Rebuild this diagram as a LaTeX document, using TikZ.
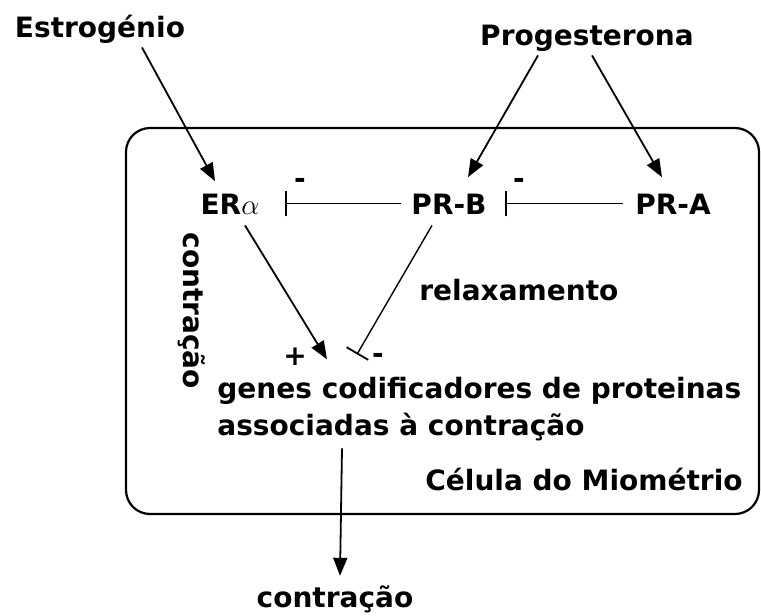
\documentclass[tikz,border=0pt]{standalone}
\usepackage{fontspec}
\setmainfont{DejaVu Sans}
\usetikzlibrary{arrows.meta}

\begin{document}
\begin{tikzpicture}[x=0.5pt, y=-0.5pt,
  every node/.style={font=\bfseries\fontsize{14}{16}\selectfont, inner sep=1pt},
  act/.style={line width=0.9pt, -{Triangle[length=9pt,width=7pt]}},
  inh/.style={line width=0.7pt, -{Bar[width=12.5pt,line width=0.9pt]}}]

\useasboundingbox (0,0) rectangle (761,616);

%%%%%%%%%%%%%%%%%%%%%%%%%%%%%%%%%%%%%%%%%%%%%%%%%%%%%%%%%%%%%%%%
% Hormones
%%%%%%%%%%%%%%%%%%%%%%%%%%%%%%%%%%%%%%%%%%%%%%%%%%%%%%%%%%%%%%%%

\node[anchor=base] (estr) at (100,37) {Estrogénio};
\node[anchor=base] (prog) at (587,45) {Progesterona};

%%%%%%%%%%%%%%%%%%%%%%%%%%%%%%%%%%%%%%%%%%%%%%%%%%%%%%%%%%%%%%%%
% Cell
%%%%%%%%%%%%%%%%%%%%%%%%%%%%%%%%%%%%%%%%%%%%%%%%%%%%%%%%%%%%%%%%

% Border
\node[draw, line width=1.1pt, rounded corners=12pt, inner sep=0pt,
      minimum width=316.5pt, minimum height=193pt] (cell) at (442.5,321) {};
\node[anchor=base east] (cell_lbl) at (745,490) {Célula do Miométrio};

% Receptors
\node[anchor=base] (er) at (230,214) {ER$\alpha$};
\node[anchor=base] (prb) at (449,214) {PR-B};
\node[anchor=base] (pra) at (673,214) {PR-A};

\node[] (m_er) at (300,183) {-};
\node[] (m_prb) at (519,183) {-};

% Genes
\node[anchor=base west] (genes) at (215,398) {genes codificadores de proteinas};
\node[anchor=base west] (assoc) at (215,435) {associadas à contração};

\node[] (plus) at (295,357) {+};
\node[] (minus) at (378,358) {-};

\node[anchor=base west] (relax) at (417,300) {relaxamento};
\node[anchor=base west, rotate=-90] (contr_v) at (183,230) {contração};

% Outcome
\node[anchor=base] (contr) at (335,607) {contração};

%%%%%%%%%%%%%%%%%%%%%%%%%%%%%%%%%%%%%%%%%%%%%%%%%%%%%%%%%%%%%%%%
% Edges
%%%%%%%%%%%%%%%%%%%%%%%%%%%%%%%%%%%%%%%%%%%%%%%%%%%%%%%%%%%%%%%%

% hormones --> receptors
\draw[act] ([xshift=21pt,yshift=-1pt]estr.south) -- ([xshift=-7.5pt,yshift=5pt]er.north);
\draw[act] ([xshift=-24.5pt,yshift=-1pt]prog.south) -- ([xshift=9.5pt,yshift=7pt]prb.north);
\draw[act] ([xshift=2.5pt,yshift=-1pt]prog.south) -- ([xshift=-5.5pt,yshift=7pt]pra.north);

% inhibition between receptors
\draw[inh] ([xshift=-4pt]prb.west) -- ([xshift=11.5pt]er.east);
\draw[inh] ([xshift=-5pt]pra.west) -- ([xshift=8pt]prb.east);

% receptors --> genes
\draw[act] ([xshift=7.5pt,yshift=-4.5pt]er.south) -- ([xshift=56pt,yshift=7.5pt]genes.north west);
\draw[inh] ([xshift=-8.5pt,yshift=-4.5pt]prb.south) -- ([xshift=71pt,yshift=10pt]genes.north west);

% genes --> contraction
\draw[act] ([xshift=63.5pt,yshift=-2.7pt]assoc.south west) -- ([xshift=2.5pt,yshift=3.5pt]contr.north);

\end{tikzpicture}
\end{document}
